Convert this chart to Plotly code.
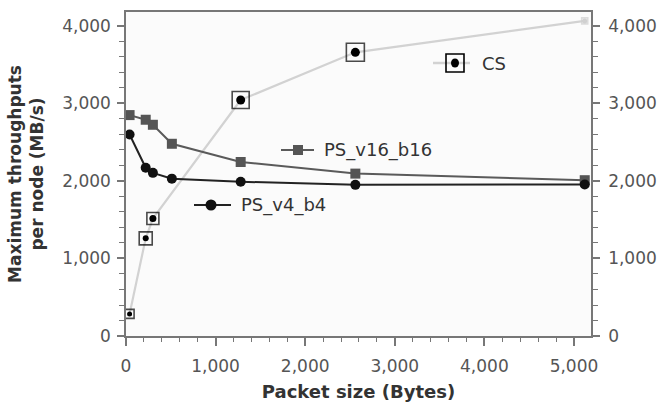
import plotly.graph_objects as go

# ---- data ----
packet_ps = [40, 220, 300, 512, 1280, 2560, 5120]
ps_v16_b16 = [2850, 2790, 2725, 2480, 2245, 2095, 2010]
ps_v4_b4 = [2600, 2170, 2105, 2030, 1990, 1950, 1955]

packet_cs = [40, 220, 300, 1280, 2560, 5120]
cs = [285, 1260, 1515, 3045, 3660, 4065]
cs_box_sizes = [9, 13, 12, 17, 18, 6]
cs_dot_sizes = [5, 6, 7, 9, 9, 5]

x_ticks = [0, 1000, 2000, 3000, 4000, 5000]
y_ticks = [0, 1000, 2000, 3000, 4000]

XR = [0, 5190]
YR = [0, 4180]

box_colors = ["#000000"] * (len(cs) - 1) + ["#d0d0d0"]
dot_colors = ["#000000"] * (len(cs) - 1) + ["#d0d0d0"]

fig = go.Figure()

# CS line
fig.add_trace(go.Scatter(
    x=packet_cs, y=cs, mode="lines",
    line=dict(color="#d2d2d2", width=2.2), showlegend=False, hoverinfo="skip"))
# CS boxes
fig.add_trace(go.Scatter(
    x=packet_cs, y=cs, mode="markers",
    marker=dict(symbol="square", size=cs_box_sizes, color="rgba(255,255,255,0.0)",
                line=dict(width=1.6, color=box_colors)),
    showlegend=False, hoverinfo="skip"))
fig.add_trace(go.Scatter(
    x=packet_cs, y=cs, mode="markers",
    marker=dict(symbol="circle", size=cs_dot_sizes, color=dot_colors, opacity=1,
                line=dict(width=0)),
    showlegend=False, hoverinfo="skip"))

# PS_v16_b16
fig.add_trace(go.Scatter(
    x=packet_ps, y=ps_v16_b16, mode="lines+markers",
    line=dict(color="#5a5a5a", width=2),
    marker=dict(symbol="square", size=10, color="#555555"),
    showlegend=False))
# PS_v4_b4
fig.add_trace(go.Scatter(
    x=packet_ps, y=ps_v4_b4, mode="lines+markers",
    line=dict(color="#222222", width=2),
    marker=dict(symbol="circle", size=10, color="#111111"),
    showlegend=False))

# invisible trace for right axis
fig.add_trace(go.Scatter(x=[None], y=[None], yaxis="y2", showlegend=False))

tickfont = dict(family="DejaVu Sans", size=17, color="#555555")

# inline legend entries (paper-pixel helpers)
W, H = 663, 402
L, R, T, B = 126, 72, 12, 66
pw, ph = W - L - R, H - T - B


def px2paper(x, y):
    return (x - L) / pw, (H - B - y) / ph


shapes = []
annotations = []

# CS legend
x0, y0 = px2paper(433, 63)
x1, _ = px2paper(470, 63)
shapes.append(dict(type="line", xref="paper", yref="paper", x0=x0, x1=x1, y0=y0, y1=y0,
                   line=dict(color="#d2d2d2", width=2.5)))
bx, by = px2paper(455, 63)
shapes.append(dict(type="rect", xref="paper", yref="paper",
                   x0=bx - 9 / pw, x1=bx + 9 / pw, y0=by - 9 / ph, y1=by + 9 / ph,
                   line=dict(color="#000000", width=1.6), fillcolor="rgba(0,0,0,0)"))
shapes.append(dict(type="circle", xref="paper", yref="paper",
                   x0=bx - 4 / pw, x1=bx + 4 / pw, y0=by - 4.5 / ph, y1=by + 4.5 / ph,
                   line=dict(color="#000", width=0), fillcolor="#000000"))
tx, ty = px2paper(480, 63)
annotations.append(dict(text="CS", xref="paper", yref="paper", x=tx, y=ty,
                        xanchor="left", yanchor="middle", showarrow=False,
                        font=dict(family="DejaVu Sans", size=18, color="#333")))

# PS_v16_b16 legend
x0, y0 = px2paper(281, 150)
x1, _ = px2paper(314, 150)
shapes.append(dict(type="line", xref="paper", yref="paper", x0=x0, x1=x1, y0=y0, y1=y0,
                   line=dict(color="#5a5a5a", width=2)))
bx, by = px2paper(298, 150)
shapes.append(dict(type="rect", xref="paper", yref="paper",
                   x0=bx - 5 / pw, x1=bx + 5 / pw, y0=by - 5 / ph, y1=by + 5 / ph,
                   line=dict(width=0), fillcolor="#555555"))
tx, ty = px2paper(322, 150)
annotations.append(dict(text="PS_v16_b16", xref="paper", yref="paper", x=tx, y=ty,
                        xanchor="left", yanchor="middle", showarrow=False,
                        font=dict(family="DejaVu Sans", size=18, color="#333")))

# PS_v4_b4 legend
x0, y0 = px2paper(194, 205)
x1, _ = px2paper(231, 205)
shapes.append(dict(type="line", xref="paper", yref="paper", x0=x0, x1=x1, y0=y0, y1=y0,
                   line=dict(color="#222222", width=2)))
bx, by = px2paper(211, 205)
shapes.append(dict(type="circle", xref="paper", yref="paper",
                   x0=bx - 5.5 / pw, x1=bx + 5.5 / pw, y0=by - 5.5 / ph, y1=by + 5.5 / ph,
                   line=dict(width=0), fillcolor="#111111"))
tx, ty = px2paper(239, 205)
annotations.append(dict(text="PS_v4_b4", xref="paper", yref="paper", x=tx, y=ty,
                        xanchor="left", yanchor="middle", showarrow=False,
                        font=dict(family="DejaVu Sans", size=18, color="#333")))

axis_common = dict(
    showgrid=False, zeroline=False, automargin=False,
    showline=True, linecolor="#777777", linewidth=1.5,
    ticks="outside", tickwidth=1.5, tickcolor="#777777",
    tickfont=tickfont,
)

fig.update_layout(
    width=W, height=H,
    margin=dict(l=L, r=R, t=T, b=B, autoexpand=False),
    paper_bgcolor="#ffffff",
    plot_bgcolor="#fbfbfb",
    shapes=shapes,
    annotations=annotations,
    xaxis=dict(
        range=XR, tickvals=x_ticks, ticktext=[f"{v:,}" for v in x_ticks],
        mirror=True, ticklen=8, ticklabelstandoff=6,
        minor=dict(dtick=200, tick0=0, ticks="outside", ticklen=4, tickwidth=1.2,
                   tickcolor="#777777", showgrid=False),
        title=dict(text="<b>Packet size (Bytes)</b>", standoff=16,
                   font=dict(family="DejaVu Sans", size=18, color="#333333")),
        **axis_common,
    ),
    yaxis=dict(
        range=YR, tickvals=y_ticks, ticktext=[f"{v:,}" for v in y_ticks],
        ticklen=7, ticklabelstandoff=3,
        minor=dict(dtick=200, tick0=0, ticks="outside", ticklen=5, tickwidth=1.2,
                   tickcolor="#777777", showgrid=False),
        title=dict(text="<b>Maximum throughputs<br>per node (MB/s)</b>", standoff=14,
                   font=dict(family="DejaVu Sans", size=17, color="#333333")),
        **axis_common,
    ),
    yaxis2=dict(
        range=YR, overlaying="y", side="right",
        tickvals=y_ticks, ticktext=[f"{v:,}" for v in y_ticks],
        ticklen=7, ticklabelstandoff=5,
        minor=dict(dtick=200, tick0=0, ticks="outside", ticklen=5, tickwidth=1.2,
                   tickcolor="#777777", showgrid=False),
        **axis_common,
    ),
)

fig.write_html("out.html", post_script="document.body.style.margin='0';",
               config={"displayModeBar": False})
